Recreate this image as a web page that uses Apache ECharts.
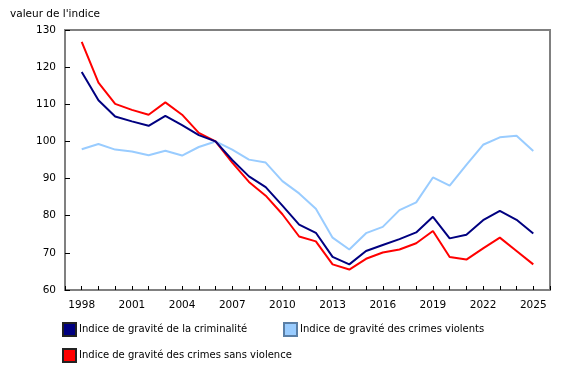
<!DOCTYPE html>
<html>
<head>
<meta charset="utf-8">
<script src="https://cdn.jsdelivr.net/npm/echarts@6/dist/echarts.min.js"></script>
<style>html,body{margin:0;padding:0;background:#fff}#c{width:580px;height:370px}</style>
</head>
<body>
<div id="c"></div>
<script>
var years = [1998,1999,2000,2001,2002,2003,2004,2005,2006,2007,2008,2009,2010,2011,2012,2013,2014,2015,2016,2017,2018,2019,2020,2021,2022,2023,2024,2025];
var crime = [118.7,111.1,106.7,105.4,104.2,106.9,104.4,101.7,100,95.0,90.6,87.7,82.7,77.6,75.4,68.9,66.9,70.5,72.1,73.7,75.5,79.7,73.9,74.9,78.8,81.3,78.9,75.2];
var violent = [97.9,99.3,97.8,97.3,96.3,97.5,96.2,98.5,100,97.8,95.1,94.3,89.3,86.0,81.9,74.1,70.9,75.3,77.0,81.5,83.6,90.3,88.1,93.7,99.1,101.1,101.5,97.4];
var nonviolent = [126.8,115.8,110.1,108.5,107.2,110.5,107.2,102.3,100,94.3,89.1,85.4,80.4,74.4,73.1,66.9,65.5,68.4,70.1,70.9,72.6,75.9,68.9,68.2,71.2,74.1,70.5,66.9];
var names = ["Indice de gravité de la criminalité","Indice de gravité des crimes violents","Indice de gravité des crimes sans violence"];
var colors = ["#000080","#99ccff","#ff0000"];
var yTitle = "valeur de l'indice";

function pairs(v){ return years.map(function(y,i){ return [y, v[i]]; }); }
var font = "DejaVu Sans";
var chart = echarts.init(document.getElementById('c'), null, {renderer:'canvas'});
var series = [crime, violent, nonviolent].map(function(v,i){
  return {name:names[i], type:'line', data:pairs(v), symbol:'none', smooth:false,
    lineStyle:{color:colors[i], width:2}, itemStyle:{color:colors[i], borderColor: i===1 ? '#5a7fa6' : '#222', borderWidth:1}, z: i===1?1:(i===0?3:2)};
});
function legend(i, left, top){
  return {data:[names[i]], left:left, top:top, icon:'rect', itemWidth:13, itemHeight:13, itemGap:0,
    textStyle:{fontFamily:font, fontSize:10, color:'#000', padding:[0,0,0,-2]}, padding:0, selectedMode:false};
}
chart.setOption({
  animation:false,
  textStyle:{fontFamily:font},
  title:{text:yTitle, left:10, top:9, padding:0, textStyle:{fontFamily:font, fontSize:10.5, fontWeight:'normal', color:'#000'}},
  grid:{left:65, right:30, top:30, bottom:80, show:true, borderColor:'#808080', borderWidth:2, containLabel:false},
  legend:[legend(0,62,322), legend(1,283,322), legend(2,62,348)],
  xAxis:{type:'value', min:1997, max:2026, interval:1,
    axisLine:{show:true, lineStyle:{color:'#808080', width:2}},
    axisTick:{show:true, inside:true, length:4, lineStyle:{color:'#000', width:1}},
    splitLine:{show:false},
    axisLabel:{fontFamily:font, fontSize:10.5, color:'#000', margin:10,
      formatter:function(v){ return (v>=1998 && v<=2025 && (v-1998)%3===0) ? String(v) : ''; }}},
  yAxis:{type:'value', min:60, max:130, interval:10,
    axisLine:{show:true, lineStyle:{color:'#808080', width:2}},
    axisTick:{show:true, inside:true, length:5, lineStyle:{color:'#000', width:1}},
    splitLine:{show:false},
    axisLabel:{fontFamily:font, fontSize:10.5, color:'#000', margin:9}},
  series:series
});
</script>
</body>
</html>
